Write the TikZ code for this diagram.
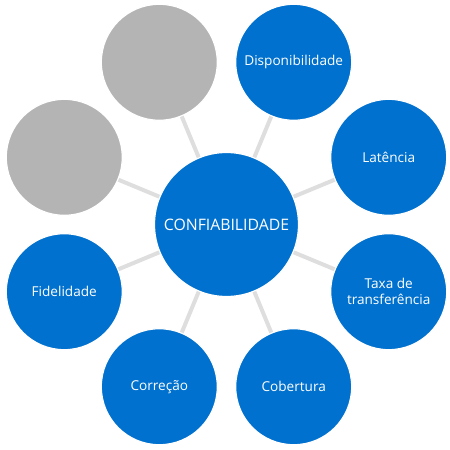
\documentclass[tikz,border=0pt]{standalone}
\usepackage{fontspec}
\setmainfont{Open Sans}
\usetikzlibrary{backgrounds}
\definecolor{azul}{HTML}{0071CE}
\definecolor{cinza}{HTML}{B4B4B4}
\definecolor{linha}{HTML}{DEDEDE}
\tikzset{
  eixo/.style={circle,fill=azul,draw=white,line width=1.2pt,minimum size=144pt,inner sep=0pt,text=white,font=\fontsize{15.8}{18}\selectfont},
  item/.style={circle,fill=azul,draw=white,line width=1.2pt,minimum size=116pt,inner sep=0pt,text=white,align=center,font=\fontsize{13.6}{16}\selectfont},
  vazio/.style={item,fill=cinza},
  elo/.style={draw=linha,line width=4pt}
}
\begin{document}
\begin{tikzpicture}[x=1pt,y=1pt]
\useasboundingbox (-226.5,-225.5) rectangle (223.5,224.5);
\node[eixo] (conf) at (0,0) {CONFIABILIDADE};
\node[item] (disp) at (67.5:175.6) {Disponibilidade};
\node[item] (lat) at (22.5:175.6) {Latência};
\node[item] (taxa) at (-22.5:175.6) {Taxa de\\transferência};
\node[item] (cob) at (-67.5:175.6) {Cobertura};
\node[item] (corr) at (-112.5:175.6) {Correção};
\node[item] (fid) at (-157.5:175.6) {Fidelidade};
\node[vazio] (vazioa) at (157.5:175.6) {};
\node[vazio] (vaziob) at (112.5:175.6) {};
% ligacoes por baixo dos circulos
\begin{scope}[on background layer]
\foreach \n in {disp,lat,taxa,cob,corr,fid,vazioa,vaziob}
  \draw[elo] (conf.center) -- (\n.center);
\end{scope}
\end{tikzpicture}
\end{document}
